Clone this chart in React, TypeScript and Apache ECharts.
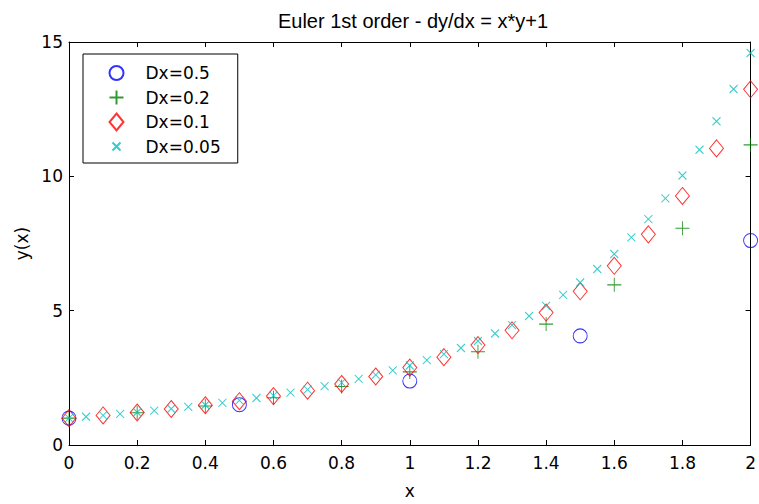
import React, { useEffect, useRef } from "react";
import * as echarts from "echarts";

const x05 = [0, 0.5, 1, 1.5, 2];
const y05 = [1, 1.5, 2.38, 4.06, 7.61];

const x02 = [0, 0.2, 0.4, 0.6, 0.8, 1, 1.2, 1.4, 1.6, 1.8, 2];
const y02 = [1, 1.2, 1.45, 1.76, 2.18, 2.72, 3.47, 4.5, 5.96, 8.07, 11.17];

const x01 = [0, 0.1, 0.2, 0.3, 0.4, 0.5, 0.6, 0.7, 0.8, 0.9, 1, 1.1, 1.2, 1.3, 1.4, 1.5, 1.6, 1.7, 1.8, 1.9, 2];
const y01 = [1, 1.1, 1.21, 1.34, 1.48, 1.63, 1.82, 2.02, 2.27, 2.55, 2.88, 3.27, 3.72, 4.27, 4.93, 5.72, 6.67, 7.84, 9.27, 11.04, 13.24];

const x005 = [0, 0.05, 0.1, 0.15, 0.2, 0.25, 0.3, 0.35, 0.4, 0.45, 0.5, 0.55, 0.6, 0.65, 0.7, 0.75, 0.8, 0.85, 0.9, 0.95, 1, 1.05, 1.1, 1.15, 1.2, 1.25, 1.3, 1.35, 1.4, 1.45, 1.5, 1.55, 1.6, 1.65, 1.7, 1.75, 1.8, 1.85, 1.9, 1.95, 2];
const y005 = [1, 1.05, 1.1, 1.16, 1.22, 1.28, 1.35, 1.42, 1.49, 1.57, 1.66, 1.75, 1.84, 1.95, 2.06, 2.19, 2.32, 2.46, 2.61, 2.78, 2.96, 3.16, 3.38, 3.61, 3.87, 4.15, 4.46, 4.8, 5.18, 5.59, 6.05, 6.55, 7.11, 7.73, 8.41, 9.18, 10.03, 10.99, 12.05, 13.25, 14.59];

const seriesNames = ["Dx=0.5", "Dx=0.2", "Dx=0.1", "Dx=0.05"];
const titleText = "Euler 1st order - dy/dx = x*y+1";

const TITLE_FONT = "'Liberation Sans', Arial, Helvetica, sans-serif";
const FONT = "'DejaVu Sans', 'Liberation Sans', Arial, sans-serif";

const zip = (xs: number[], ys: number[]) => xs.map((x, i) => [x, ys[i]]);

export default function App() {
  const ref = useRef<HTMLDivElement>(null);
  useEffect(() => {
    if (!ref.current) return;
    const chart = echarts.init(ref.current, null, { renderer: "svg" });
    const axisCommon = {
      type: "value" as const,
      axisLine: { show: true, onZero: false, lineStyle: { color: "#000", width: 1 } },
      axisTick: { show: true, inside: true, length: 5, lineStyle: { color: "#000" } },
      splitLine: { show: false },
    };
    const textBase = { fontFamily: FONT, fontSize: 17, color: "#000" };
    chart.setOption({
      animation: false,
      backgroundColor: "#fff",
      title: {
        text: titleText,
        left: 408,
        textAlign: "center",
        top: 6,
        textStyle: { fontFamily: TITLE_FONT, fontSize: 20, fontWeight: "normal", color: "#000" },
      },
      legend: {
        orient: "vertical",
        left: 83,
        top: 54,
        padding: [8, 17, 7, 24],
        itemWidth: 14,
        itemHeight: 17,
        itemGap: 4,
        backgroundColor: "#fff",
        borderColor: "#000",
        borderWidth: 1,
        borderRadius: 0,
        textStyle: { ...textBase, lineHeight: 17, padding: [0, 0, 0, 17] },
        data: seriesNames,
      },
      grid: { left: 69, right: 4, top: 42, bottom: 55, containLabel: false },
      xAxis: [
        {
          ...axisCommon,
          position: "bottom",
          min: 0,
          max: 2,
          interval: 0.2,
          name: "x",
          nameLocation: "middle",
          nameGap: 37,
          nameTextStyle: textBase,
          axisLabel: { ...textBase, margin: 9 },
        },
        {
          ...axisCommon,
          position: "top",
          min: 0,
          max: 2,
          interval: 0.2,
          axisLabel: { show: false },
        },
      ],
      yAxis: [
        {
          ...axisCommon,
          position: "left",
          min: 0,
          max: 15,
          interval: 5,
          name: "y(x)",
          nameLocation: "middle",
          nameGap: 38,
          nameTextStyle: textBase,
          axisLabel: { ...textBase, margin: 6 },
        },
        {
          ...axisCommon,
          position: "right",
          min: 0,
          max: 15,
          interval: 5,
          axisLabel: { show: false },
        },
      ],
      series: [
        {
          name: seriesNames[0],
          type: "scatter",
          data: zip(x05, y05),
          symbol: "path://M0,0M14,17M0,8.5A7,7 0 1,0 14,8.5A7,7 0 1,0 0,8.5Z",
          symbolSize: [14, 17],
          clip: false,
          itemStyle: { color: "none", borderColor: "#0000ff", borderWidth: 1 },
        },
        {
          name: seriesNames[1],
          type: "scatter",
          data: zip(x02, y02),
          symbol: "path://M0,0M14,17M7,1.5L7,15.5M0,8.5L14,8.5",
          symbolSize: [14, 17],
          clip: false,
          itemStyle: { color: "#008000", borderColor: "#008000", borderWidth: 1 },
        },
        {
          name: seriesNames[2],
          type: "scatter",
          data: zip(x01, y01),
          symbol: "path://M7,0L14,8.5L7,17L0,8.5Z",
          symbolSize: [14, 17],
          clip: false,
          itemStyle: { color: "none", borderColor: "#ff0000", borderWidth: 1 },
        },
        {
          name: seriesNames[3],
          type: "scatter",
          data: zip(x005, y005),
          symbol: "path://M0,0M14,17M3,4.5L11,12.5M3,12.5L11,4.5",
          symbolSize: [14, 17],
          clip: false,
          itemStyle: { color: "#00bfbf", borderColor: "#00bfbf", borderWidth: 1 },
        },
      ],
    });
    return () => chart.dispose();
  }, []);
  return <div ref={ref} style={{ position: "absolute", left: 0, top: 0, width: 759, height: 504 }} />;
}
